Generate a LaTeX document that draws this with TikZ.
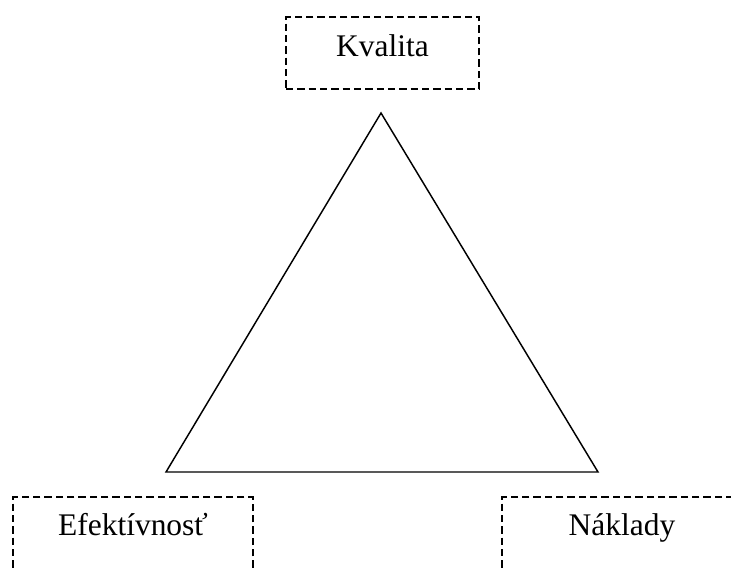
\documentclass[tikz,border=0pt]{standalone}
\usepackage{fontspec}
\setmainfont{Liberation Serif}
\begin{document}
\begin{tikzpicture}[
  x=0.75pt, y=-0.75pt,
  font=\fontsize{23.6}{28}\selectfont,
  dashbox/.style={draw, dash pattern=on 5.5pt off 3pt, line width=1.2pt,
                  minimum height=54pt, text height=16pt, text depth=11.5pt, inner sep=0pt},
  lowbox/.style={dashbox, minimum width=180pt, minimum height=60pt,
                 text height=12pt, text depth=15pt},
  edge/.style={line width=1.1pt, line join=miter}
]
\useasboundingbox (0,0) rectangle (731,568);
\clip (0,0) rectangle (731,568);
\node[dashbox, minimum width=144.75pt] (kvalita) at (382.5,53) {Kvalita};
\node[lowbox] (efekt) at (133,537) {Efektívnosť};
\node[lowbox] (naklady) at (622,537) {Náklady};
\coordinate (apex) at (381,113);
\coordinate (baseL) at (166,472);
\coordinate (baseR) at (598,472);
\draw[edge] (apex) -- (baseL) -- (baseR) -- cycle;
\end{tikzpicture}
\end{document}
